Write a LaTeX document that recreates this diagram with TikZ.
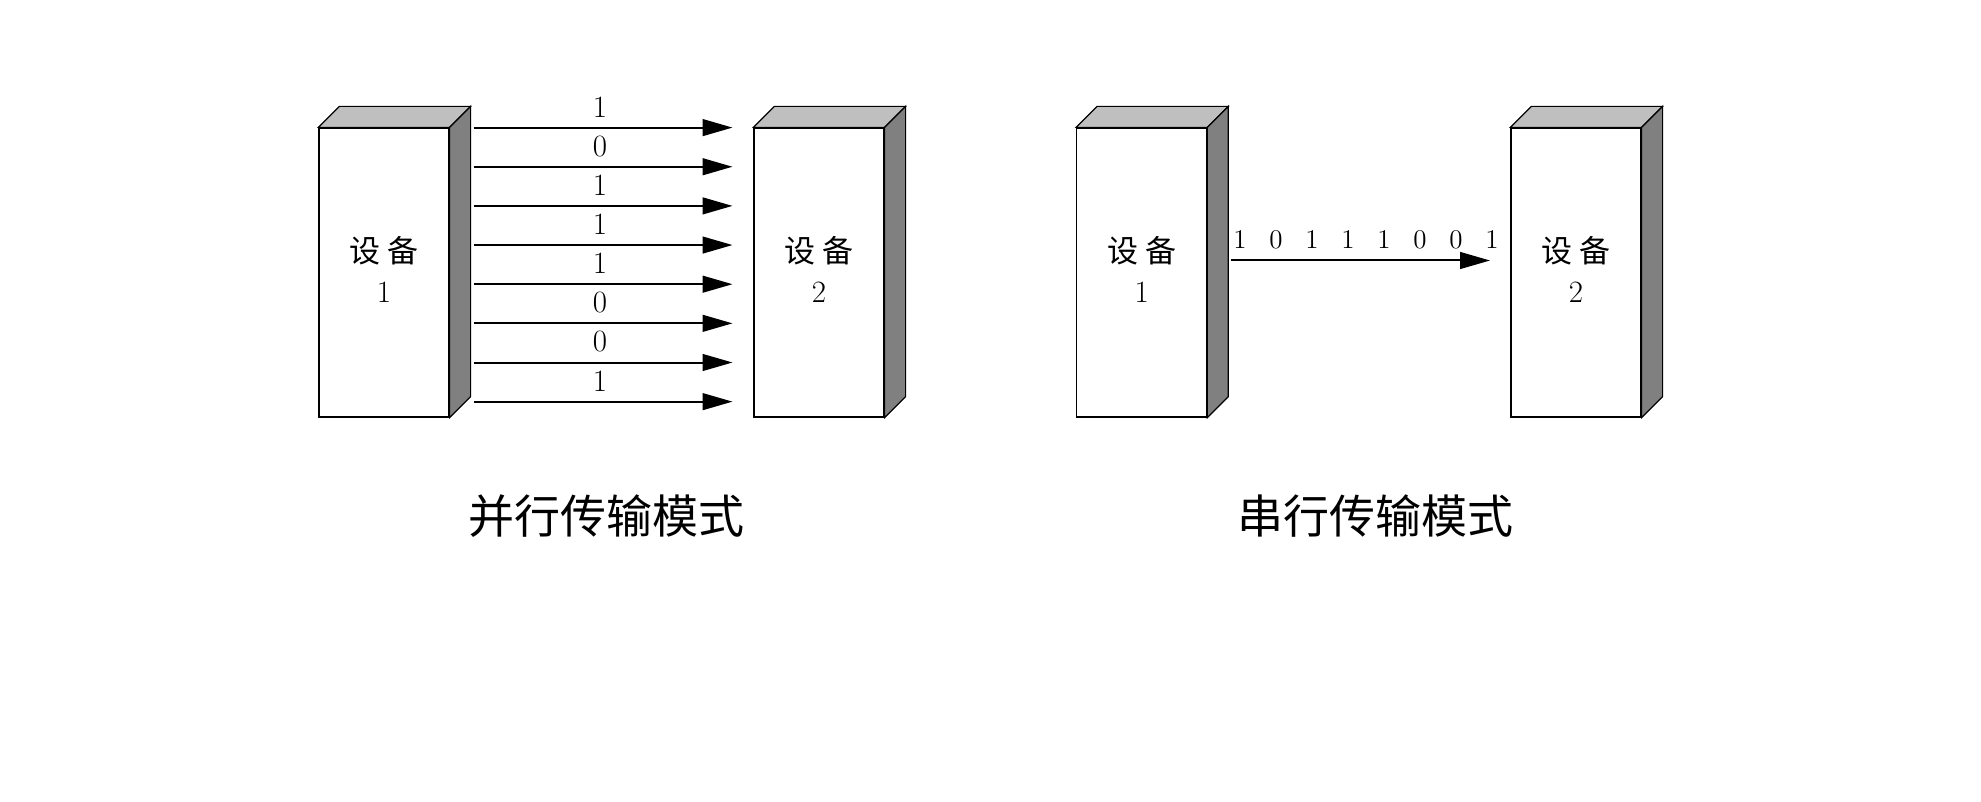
\documentclass[tikz,border=0pt]{standalone}
\usepackage{fontspec}
\newfontfamily\cjk{Noto Sans CJK SC}
\usetikzlibrary{calc, arrows.meta}

\begin{document}
\begin{tikzpicture}[x=0.5pt,y=-0.5pt,
    device/.style={draw, line width=0.6pt, fill=white, minimum width=65pt,
      minimum height=144.5pt, inner sep=0pt},
    devtext/.style={align=center, font=\fontsize{15.5}{20}\selectfont},
    topface/.style={draw, line width=0.6pt, fill=black!25},
    sideface/.style={draw, line width=0.6pt, fill=black!50},
    wire/.style={line width=1pt, -{Triangle[length=15pt,width=8.4pt]}},
    bit/.style={font=\fontsize{15.5}{18}\selectfont},
    sbit/.style={font=\fontsize{13.5}{16}\selectfont},
    title/.style={font=\cjk\fontsize{23}{28}\selectfont}]
        \useasboundingbox (0,0) rectangle (1981,802);

        % devices
        \foreach \name/\cx/\num in {b1/384/1, b2/819/2, b3/1141.7/1, b4/1576/2} {
          \node[device] (\name) at (\cx,272.5) {};
          \node[devtext] (\name t) at (\cx,269.5) {{\cjk 设 备}\\\num};
          \draw[topface] (\name.north west) -- ++(21,-21) -- ($(\name.north east)+(21,-21)$) -- (\name.north east) -- cycle;
          \draw[sideface] (\name.north east) -- ++(21,-21) -- ($(\name.south east)+(21,-21)$) -- (\name.south east) -- cycle;
        }

        % parallel lines
        \foreach \bit [count=\i] in {1,0,1,1,1,0,0,1} {
          \coordinate (p\i) at (473.5,{127.6+(\i-1)*39.15});
          \coordinate (q\i) at (732.5,{127.6+(\i-1)*39.15});
          \draw[wire] (p\i) -- (q\i);
          \node[bit] (l\i) at ($(p\i)!0.5!(q\i)+(-3,-20.5)$) {\bit};
        }

        % serial line
        \coordinate (s) at (1231,260.5);
        \coordinate (t) at (1490,260.5);
        \draw[wire] (s) -- (t);
        \foreach \bit [count=\i] in {1,0,1,1,1,0,0,1}
          \node[sbit] (d\i) at ({1240+(\i-1)*36},240) {\bit};

        \node[title] (par) at (606,516) {并行传输模式};
        \node[title] (ser) at (1375.5,516) {串行传输模式};
      \end{tikzpicture}
\end{document}
